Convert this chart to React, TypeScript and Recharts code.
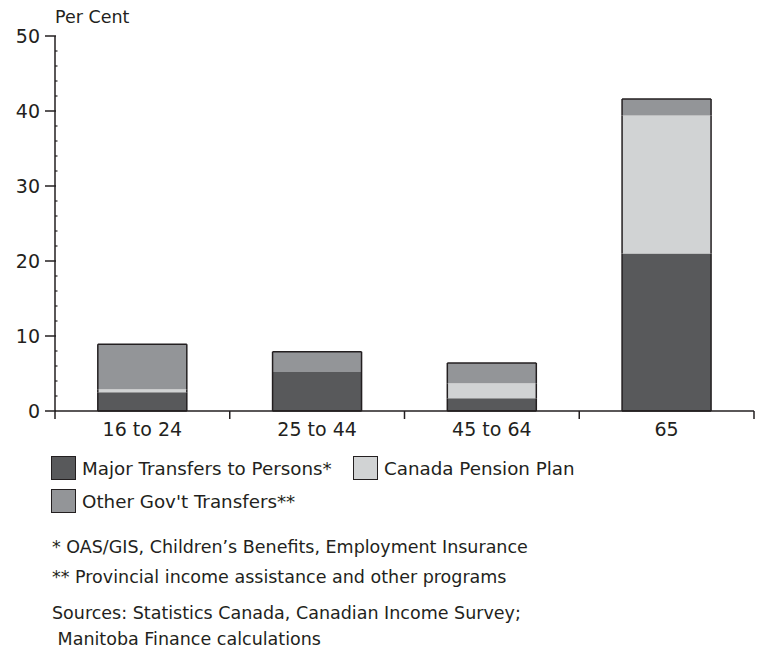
import { BarChart, Bar, XAxis, YAxis } from 'recharts'

const categories = ['16 to 24', '25 to 44', '45 to 64', '65']
const majorTransfers = [2.5, 5.2, 1.7, 21.0]
const canadaPension = [0.4, 0, 2.0, 18.4]
const otherTransfers = [6.0, 2.7, 2.7, 2.2]

const yTicks = [0, 2, 4, 6, 8, 10, 12, 14, 16, 18, 20, 22, 24, 26, 28, 30, 32, 34, 36, 38, 40, 42, 44, 46, 48, 50]
const yLabels = [0, 10, 20, 30, 40, 50]

const footnotes = [
  '* OAS/GIS, Children\u2019s Benefits, Employment Insurance',
  '** Provincial income assistance and other programs',
]
const sources = ['Sources: Statistics Canada, Canadian Income Survey;', '\u00a0Manitoba Finance calculations']

const COLOR_MAJOR = '#58595b'
const COLOR_CPP = '#d1d3d4'
const COLOR_OTHER = '#939598'
const INK = '#231f20'
const FONT = "'DejaVu Sans', sans-serif"

const series = [
  { key: 'major', name: 'Major Transfers to Persons*', color: COLOR_MAJOR },
  { key: 'cpp', name: 'Canada Pension Plan', color: COLOR_CPP },
  { key: 'other', name: "Other Gov't Transfers**", color: COLOR_OTHER },
]

const data = categories.map((c, i) => ({
  category: c,
  major: majorTransfers[i],
  cpp: canadaPension[i],
  other: otherTransfers[i],
}))

const Y_TICK_SIZE = 10
const Y_TICK_MARGIN = 5
const X_TICK_SIZE = 8
const X_TICK_MARGIN = 3

// stacked segment: fill only, outline sides, plus top/bottom edge for outer segments
function segment(edge: 'top' | 'bottom' | 'none') {
  return (props: any) => {
    const { x, y, width, height, fill } = props
    if (!height || height <= 0) return <g />
    return (
      <g>
        <rect x={x} y={y} width={width} height={height} fill={fill} stroke="none" />
        <line x1={x} y1={y} x2={x} y2={y + height} stroke={INK} strokeWidth={1.5} />
        <line x1={x + width} y1={y} x2={x + width} y2={y + height} stroke={INK} strokeWidth={1.5} />
        {edge === 'top' && <line x1={x} y1={y} x2={x + width} y2={y} stroke={INK} strokeWidth={1.5} />}
        {edge === 'bottom' && <line x1={x} y1={y + height} x2={x + width} y2={y + height} stroke={INK} strokeWidth={1.5} />}
      </g>
    )
  }
}

function YTick(props: any) {
  const { x, y, payload } = props
  const axisX = x + Y_TICK_SIZE + Y_TICK_MARGIN
  const major = yLabels.includes(payload.value)
  return (
    <g>
      {major ? (
        <>
          <line x1={axisX - Y_TICK_SIZE} y1={y} x2={axisX + 1} y2={y} stroke={INK} strokeWidth={1.5} />
          <text x={x} y={y} dy="0.36em" textAnchor="end" fill={INK} fontSize={19} fontFamily={FONT}>
            {payload.value}
          </text>
        </>
      ) : (
        <line x1={axisX} y1={y} x2={axisX + 2.5} y2={y} stroke={INK} strokeWidth={1.2} />
      )}
      {payload.value === 0 && <line x1={axisX} y1={y} x2={axisX} y2={y + 8} stroke={INK} strokeWidth={1.5} />}
    </g>
  )
}

function XTick(props: any) {
  const { x, y, payload } = props
  const half = payload.offset ?? 0
  const axisY = y - X_TICK_SIZE - X_TICK_MARGIN
  return (
    <g>
      <line x1={x + half} y1={axisY} x2={x + half} y2={axisY + 8} stroke={INK} strokeWidth={1.5} />
      <text x={x} y={y} dy="0.75em" textAnchor="middle" fill={INK} fontSize={19} fontFamily={FONT}>
        {payload.value}
      </text>
    </g>
  )
}

function LegendItem({ color, name, left, top }: { color: string; name: string; left: number; top: number }) {
  return (
    <div style={{ position: 'absolute', left, top, height: 24, display: 'flex', alignItems: 'center', fontSize: 18.3, whiteSpace: 'nowrap' }}>
      <span
        style={{
          display: 'inline-block',
          boxSizing: 'border-box',
          width: 25,
          height: 24,
          background: color,
          border: `1.5px solid ${INK}`,
          marginRight: 6,
        }}
      />
      <span>{name}</span>
    </div>
  )
}

const noteStyle = { position: 'absolute' as const, left: 52, fontSize: 17.5, lineHeight: '24px', whiteSpace: 'nowrap' as const }

export default function App() {
  return (
    <div style={{ position: 'absolute', left: 0, top: 0, width: 758, height: 649, background: '#fff', fontFamily: FONT, color: INK }}>
      <div style={{ position: 'absolute', left: 55, top: 5, fontSize: 17.5, lineHeight: '24px' }}>Per Cent</div>
      <div style={{ position: 'absolute', left: 0, top: 0 }}>
        <BarChart width={758} height={441} data={data} margin={{ top: 36, right: 4, left: 0, bottom: 0 }} barCategoryGap="24.5%">
          <XAxis
            dataKey="category"
            height={30}
            tickLine={false}
            tickSize={X_TICK_SIZE}
            tickMargin={X_TICK_MARGIN}
            axisLine={{ stroke: INK, strokeWidth: 1.5 }}
            tick={<XTick />}
            interval={0}
          />
          <YAxis
            width={55}
            domain={[0, 50]}
            ticks={yTicks}
            interval={0}
            tickLine={false}
            tickSize={Y_TICK_SIZE}
            tickMargin={Y_TICK_MARGIN}
            axisLine={{ stroke: INK, strokeWidth: 1.5 }}
            tick={<YTick />}
          />
          <Bar dataKey="major" name={series[0].name} stackId="a" fill={COLOR_MAJOR} shape={segment('bottom')} isAnimationActive={false} />
          <Bar dataKey="cpp" name={series[1].name} stackId="a" fill={COLOR_CPP} shape={segment('none')} isAnimationActive={false} />
          <Bar dataKey="other" name={series[2].name} stackId="a" fill={COLOR_OTHER} shape={segment('top')} isAnimationActive={false} />
        </BarChart>
      </div>
      <LegendItem color={series[0].color} name={series[0].name} left={51} top={456} />
      <LegendItem color={series[1].color} name={series[1].name} left={353} top={456} />
      <LegendItem color={series[2].color} name={series[2].name} left={51} top={489} />
      <div style={{ ...noteStyle, top: 535 }}>{footnotes[0]}</div>
      <div style={{ ...noteStyle, top: 565 }}>{footnotes[1]}</div>
      <div style={{ ...noteStyle, top: 601 }}>{sources[0]}</div>
      <div style={{ ...noteStyle, top: 627 }}>{sources[1]}</div>
    </div>
  )
}
